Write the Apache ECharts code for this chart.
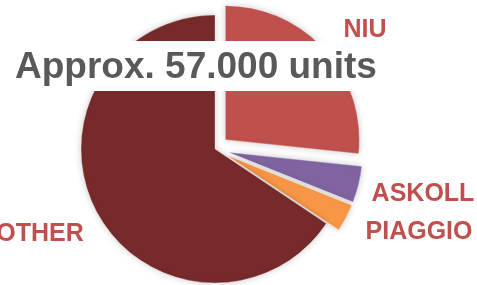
<!DOCTYPE html>
<html>
<head>
<meta charset="utf-8">
<script src="https://cdn.jsdelivr.net/npm/echarts@6/dist/echarts.min.js"></script>
<style>
  html, body { margin: 0; padding: 0; background: #fff; }
  #chart { width: 477px; height: 285px; }
</style>
</head>
<body>
<div id="chart"></div>
<script>
    // brands and approx. units (total ~57.000)
    var marcas = ['NIU', 'ASKOLL', 'PIAGGIO', 'OTHER'];
    var unidades = [15200, 2500, 1900, 37400];
    var destacados = [true, true, true, false];
    var titulo = 'Approx. 57.000 units';

    var cores = ['#C0504D', '#8064A2', '#F79646', '#772A2A'];
    // label centres, px
    var posLabels = [[365, 30], [423, 194], [419, 232], [40, 234]];

    var dom = document.getElementById('chart');
    var chart = echarts.init(dom, null, { renderer: 'canvas' });

    chart.setOption({
        animation: false,
        title: {
            text: titulo,
            left: 0,
            top: 41,
            padding: [3, 2, 0, 15],
            backgroundColor: '#fff',
            z: 10,
            textStyle: {
                fontFamily: 'Liberation Sans',
                fontWeight: 'bold',
                fontSize: 37,
                lineHeight: 47,
                color: '#595959'
            }
        },
        graphic: marcas.map(function (nome, i) {
            return {
                type: 'text',
                x: posLabels[i][0],
                y: posLabels[i][1],
                z: 5,
                style: {
                    text: nome,
                    align: 'center',
                    verticalAlign: 'middle',
                    fontFamily: 'Liberation Sans',
                    fontWeight: 'bold',
                    fontSize: 25,
                    fill: '#C0504D'
                }
            };
        }),
        series: [
            {
                type: 'pie',
                center: [215, 149],
                radius: 134,
                startAngle: 90,
                clockwise: true,
                selectedMode: 'multiple',
                selectedOffset: 14,
                itemStyle: {
                    borderColor: 'rgba(255,255,255,0.6)',
                    borderWidth: 0.5,
                    shadowBlur: 7,
                    shadowColor: 'rgba(0,0,0,0.22)'
                },
                label: { show: false },
                labelLine: { show: false },
                emphasis: { disabled: true },
                data: marcas.map(function (nome, i) {
                    return {
                        name: nome,
                        value: unidades[i],
                        selected: destacados[i],
                        itemStyle: { color: cores[i] }
                    };
                })
            }
        ]
    });

    window.addEventListener('resize', chart.resize);
</script>
</body>
</html>
